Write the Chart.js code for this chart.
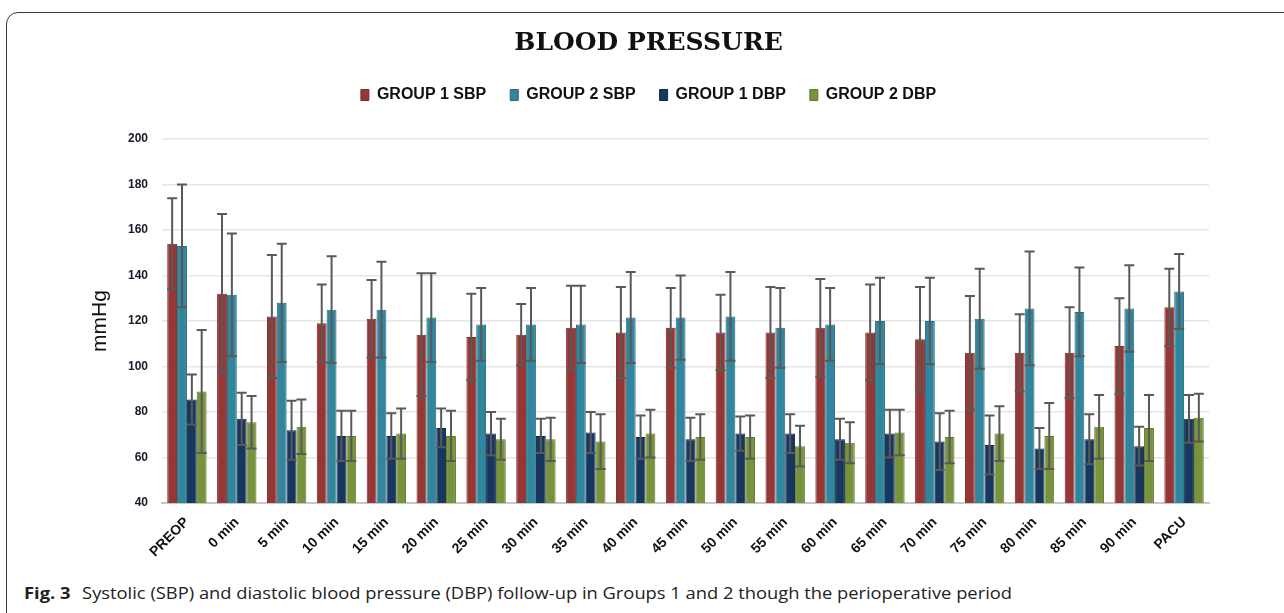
<!DOCTYPE html>
<html>
<head>
<meta charset="utf-8">
<script src="https://cdn.jsdelivr.net/npm/chart.js@4"></script>
<style>
  body { margin: 0; background: #fff; width: 1284px; height: 613px; overflow: hidden; position: relative; }
  #frame { position: absolute; left: 6px; top: 12px; width: 1300px; height: 640px; border: 1px solid #3a3a3a; border-radius: 12px; }
  #wrap { position: absolute; left: 0; top: 0; width: 1284px; height: 578px; }
  #caption { position: absolute; left: 24px; top: 582px; font-family: "Open Sans", sans-serif; font-size: 16px; color: #222; white-space: nowrap; transform-origin: left center; }
  #caption b { font-weight: 700; margin-right: 6px; }
</style>
</head>
<body>
<div id="frame"></div>
<div id="wrap"><canvas id="chart1"></canvas></div>
<div id="caption"><b>Fig. 3</b> Systolic (SBP) and diastolic blood pressure (DBP) follow-up in Groups 1 and 2 though the perioperative period</div>
<script>
const labels = ['PREOP', '0 min', '5 min', '10 min', '15 min', '20 min', '25 min', '30 min', '35 min', '40 min',
  '45 min', '50 min', '55 min', '60 min', '65 min', '70 min', '75 min', '80 min', '85 min', '90 min', 'PACU'];

const g1_sbp = [154, 132, 122, 119, 121, 114, 113, 114, 117, 115, 117, 115, 115, 117, 115, 112, 106, 106, 106, 109, 126];
const g1_sbp_sd = [20, 35, 27, 17, 17, 27, 19, 13.5, 18.5, 20, 17.5, 16.5, 20, 21.5, 21, 23, 25, 17, 20, 21, 17];
const g2_sbp = [153, 131.5, 128, 125, 125, 121.5, 118.5, 118.5, 118.5, 121.5, 121.5, 122, 117, 118.5, 120, 120, 121, 125.5, 124, 125.5, 133];
const g2_sbp_sd = [27, 27, 26, 23.5, 21, 19.5, 16, 16, 17, 20, 18.5, 19.5, 17.5, 16, 19, 19, 22, 25, 19.5, 19, 16.5];
const g1_dbp = [85.5, 77, 72, 69.5, 69.5, 73, 70.5, 69.5, 71, 69, 68, 70.5, 70.5, 68, 70.5, 67, 65.5, 64, 68, 65, 77];
const g1_dbp_sd = [11, 11.5, 13, 11, 10, 8.5, 9.5, 7.5, 9, 9.5, 9.5, 7.5, 8.5, 9, 10.5, 12.5, 13, 9, 11, 8.5, 10.5];
const g2_dbp = [89, 75.5, 73.5, 69.5, 70.5, 69.5, 68, 68, 67, 70.5, 69, 69, 65, 66.5, 71, 69, 70.5, 69.5, 73.5, 73, 77.5];
const g2_dbp_sd = [27, 11.5, 12, 11, 11, 11, 9, 9.5, 12, 10.5, 10, 9.5, 9, 9, 10, 11.5, 12, 14.5, 14, 14.5, 10.5];

const y_ticks = [40, 60, 80, 100, 120, 140, 160, 180, 200];

const sd_list = [g1_sbp_sd, g2_sbp_sd, g1_dbp_sd, g2_dbp_sd];

// error bars drawn on top of the bars, from the y scale
const errorBars = {
  id: 'errorBars',
  afterDatasetsDraw(chart) {
    const ctx = chart.ctx;
    const y = chart.scales.y;
    ctx.save();
    ctx.strokeStyle = '#595959';
    ctx.lineWidth = 2;
    chart.data.datasets.forEach((ds, i) => {
      const meta = chart.getDatasetMeta(i);
      meta.data.forEach((bar, j) => {
        const v = ds.data[j], sd = sd_list[i][j];
        const top = y.getPixelForValue(v + sd);
        const bot = y.getPixelForValue(v - sd);
        ctx.beginPath();
        ctx.moveTo(bar.x, top); ctx.lineTo(bar.x, bot);
        ctx.moveTo(bar.x - 5, top); ctx.lineTo(bar.x + 5, top);
        ctx.moveTo(bar.x - 5, bot); ctx.lineTo(bar.x + 5, bot);
        ctx.stroke();
      });
    });
    ctx.restore();
  }
};

// extra room under the legend
const legendGap = {
  id: 'legendGap',
  beforeInit(chart) {
    const fit = chart.legend.fit;
    chart.legend.fit = function () {
      fit.bind(chart.legend)();
      this.height += 26;
    };
  }
};

function series(name, data, color, border) {
  return {
    label: name,
    data: data,
    backgroundColor: color,
    borderColor: border,
    borderWidth: 1,
    categoryPercentage: 0.79,
    barPercentage: 1.0
  };
}

const chart1_cfg = {
  type: 'bar',
  data: {
    labels: labels,
    datasets: [
      series('GROUP 1 SBP', g1_sbp, '#953735', '#7a2a28'),
      series('GROUP 2 SBP', g2_sbp, '#31859c', '#256b7e'),
      series('GROUP 1 DBP', g1_dbp, '#17375e', '#0f2746'),
      series('GROUP 2 DBP', g2_dbp, '#77933c', '#5f7a2c')
    ]
  },
  options: {
    responsive: true,
    maintainAspectRatio: false,
    animation: false,
    layout: { padding: { left: 88, right: 75, top: 0, bottom: 5 } },
    plugins: {
      title: {
        display: true,
        text: 'BLOOD PRESSURE',
        color: '#111',
        font: { family: '"DejaVu Serif", serif', size: 25, weight: 'bold' },
        padding: { top: 28, bottom: 5 }
      },
      legend: {
        position: 'top',
        labels: {
          color: '#111',
          font: { family: '"Liberation Sans", Arial, sans-serif', size: 16, weight: 'bold' },
          boxWidth: 8,
          boxHeight: 11,
          padding: 24
        }
      },
      tooltip: { enabled: false }
    },
    scales: {
      x: {
        grid: { display: false },
        border: { color: '#c8c8c8', width: 2 },
        ticks: {
          color: '#111',
          font: { family: '"Liberation Sans", Arial, sans-serif', size: 14, weight: 'bold' },
          minRotation: 45,
          maxRotation: 45,
          autoSkip: false
        },
        afterFit(scale) { scale.height = 70; }
      },
      y: {
        min: 40,
        max: 200,
        afterBuildTicks(scale) { scale.ticks = y_ticks.map(v => ({ value: v })); },
        grid: { color: '#e6e6e6', lineWidth: 1.5, drawTicks: false },
        border: { display: false },
        ticks: {
          color: '#1a1a2a',
          padding: 14,
          font: { family: '"Liberation Sans", Arial, sans-serif', size: 12, weight: 'bold' }
        },
        title: {
          display: true,
          text: 'mmHg',
          color: '#111',
          padding: 0,
          font: { family: '"Liberation Sans", Arial, sans-serif', size: 21 }
        },
        afterFit(scale) { scale.width = 74; }
      }
    }
  },
  plugins: [errorBars, legendGap]
};

const chart1_ctx = document.getElementById('chart1').getContext('2d');
let chart1 = new Chart(chart1_ctx, chart1_cfg);

const cap = document.getElementById('caption');
cap.style.transform = 'scaleX(' + (988 / cap.getBoundingClientRect().width) + ')';
</script>
</body>
</html>
